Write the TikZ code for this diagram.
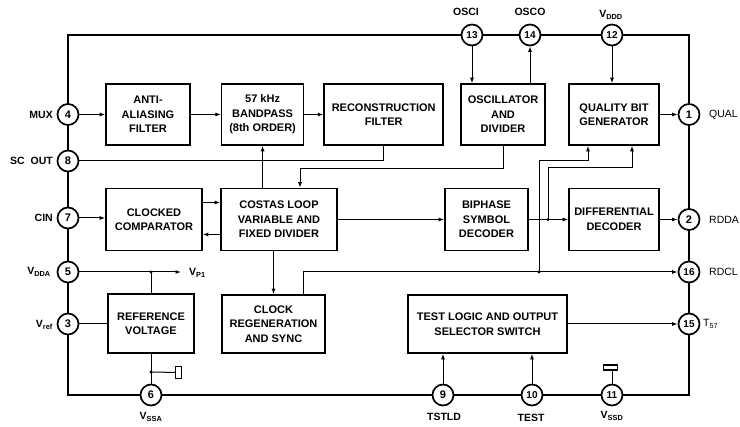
\documentclass[tikz,border=0pt]{standalone}
\usepackage{fontspec}
\setmainfont{Liberation Sans}
\usetikzlibrary{arrows.meta,positioning,calc}

\begin{document}
\begin{tikzpicture}[x=1pt, y=-1pt, node distance=30pt,
  every node/.style={font=\fontsize{11}{14.5}\selectfont\bfseries},
  blk/.style={draw, line width=1.6pt, align=center, minimum height=61pt, inner sep=2pt},
  pin/.style={draw, circle, fill=white, line width=1.7pt, minimum size=21pt, inner sep=0pt},
  twodig/.style={font=\fontsize{10}{10}\selectfont\bfseries},
  frame/.style={line width=2.4pt},
  sig/.style={line width=1pt},
  arr/.style={sig, -{Latex[length=5.5pt,width=4pt]}},
  lbl/.style={font=\fontsize{10.5}{11}\selectfont\bfseries, inner sep=1pt},
  lblr/.style={font=\fontsize{10.5}{11}\selectfont, inner sep=1pt, anchor=west},
  jdot/.style={circle, fill, inner sep=0pt, minimum size=3.4pt}]
\useasboundingbox (0,0) rectangle (740,427);

% outer frame
\coordinate (tl) at (68,35);
\coordinate (br) at (689,395);
\draw[frame] (tl) rectangle (br);

% blocks
\node[blk, minimum width=84pt] (anti) at (148,114.5) {ANTI-\\ALIASING\\FILTER};
\node[blk, minimum width=82pt, right=30pt of anti] (band) {57 kHz\\BANDPASS\\(8th ORDER)};
\node[blk, minimum width=119pt, right=19pt of band] (recon) {RECONSTRUCTION\\FILTER};
\node[blk, minimum width=84pt] (osc) at (503,114.5) {OSCILLATOR\\AND\\DIVIDER};
\node[blk, minimum width=90pt] (qbg) at (614,114.5) {QUALITY BIT\\GENERATOR};
\node[blk, minimum width=96pt, minimum height=62pt] (comp) at (154,219.5) {CLOCKED\\COMPARATOR};
\node[blk, minimum width=116pt, minimum height=62pt] (costas) at (279,219.5) {COSTAS LOOP\\VARIABLE AND\\FIXED DIVIDER};
\node[blk, minimum width=83pt, minimum height=62pt] (biph) at (486.5,219.5) {BIPHASE\\SYMBOL\\DECODER};
\node[blk, minimum width=90pt, minimum height=62pt] (diff) at (614,219.5) {DIFFERENTIAL\\DECODER};
\node[blk, minimum width=86pt, minimum height=59pt] (ref) at (151,323.5) {REFERENCE\\VOLTAGE};
\node[blk, minimum width=103pt, minimum height=58pt] (clk) at (273.5,324) {CLOCK\\REGENERATION\\AND SYNC};
\node[blk, minimum width=159pt, minimum height=58pt] (test) at (487.5,324) {TEST LOGIC AND OUTPUT\\SELECTOR SWITCH};

% pins
\node[pin] (p4) at (68,114.5) {4};
\node[pin] (p8) at (68,161) {8};
\node[pin] (p7) at (68,218) {7};
\node[pin] (p5) at (68,272) {5};
\node[pin] (p3) at (68,324) {3};
\node[pin] (p6) at (151,395) {6};
\node[pin] (p9) at (443,395) {9};
\node[pin, twodig] (p10) at (532,395) {10};
\node[pin, twodig] (p11) at (612,395) {11};
\node[pin, twodig] (p15) at (689,324) {15};
\node[pin, twodig] (p16) at (689,272) {16};
\node[pin] (p2) at (689,219.5) {2};
\node[pin] (p1) at (689,114.5) {1};
\node[pin, twodig] (p13) at (472,35) {13};
\node[pin, twodig] (p14) at (530,35) {14};
\node[pin, twodig] (p12) at (612,35) {12};

% pin labels
\node[lbl, anchor=east] at (54,114.5) {MUX};
\node[lbl, anchor=east] at (54,161) {SC\ \ OUT};
\node[lbl, anchor=east] at (54,218) {CIN};
\node[lbl, anchor=east] at (52,272) {V\textsubscript{DDA}};
\node[lbl, anchor=east] at (54,325) {V\textsubscript{ref}};
\node[lbl] at (466,12) {OSCI};
\node[lbl] at (530,12) {OSCO};
\node[lbl] at (611,15) {V\textsubscript{DDD}};
\node[lblr] at (708,114.5) {QUAL};
\node[lblr] at (708,219.5) {RDDA};
\node[lblr] at (708,272) {RDCL};
\node[lblr] at (702,324) {T\textsubscript{57}};
\node[lbl] at (151,417) {V\textsubscript{SSA}};
\node[lbl] at (444,417) {TSTLD};
\node[lbl] at (531,418) {TEST};
\node[lbl] at (612,416) {V\textsubscript{SSD}};

% signal paths
\draw[arr] (p4) -- (anti.west |- p4);
\draw[arr] (anti) -- (band);
\draw[arr] (band) -- (recon);
\draw[arr] (costas.north -| band.south) -- (band.south);
\draw[sig] (recon.south) |- (p8);
\draw[arr] (osc.south) -- ++(0,23) -| ([xshift=21pt]costas.north);
\draw[arr] (p13) -- (p13 |- osc.north);
\draw[arr] (osc.north -| p14) -- (p14);
\draw[arr] (p12) -- (p12 |- qbg.north);
\draw[arr] (qbg) -- (p1);
\draw[arr] (p7) -- (p7 -| comp.west);
\draw[arr] ([yshift=17pt]comp.east) -- ([yshift=17pt]costas.west);
\draw[arr] ([yshift=-15pt]costas.west) -- ([yshift=-15pt]comp.east);
\draw[arr] (costas) -- (biph);
\draw[arr] (biph) -- (diff);
\draw[arr] (diff) -- (p2);
\draw[arr] (costas.south -| clk.north) -- (clk.north);

% data taps to quality bit generator
\coordinate (j1) at (548,219.5);
\coordinate (j2) at (539,272);
\draw[arr] (j1) -- (548,168) -| ([xshift=18pt]qbg.south);
\draw[arr] ([xshift=29.5pt]clk.north) |- (p16);
\draw[arr] (j2) -- (539,161) -| ([xshift=-26pt]qbg.south);
\node[jdot] at (j1) {};
\node[jdot] at (j2) {};

% test logic
\draw[arr] (test) -- (p15);
\draw[arr] (p9) -- (p9 |- test.south);
\draw[arr] (p10) -- (p10 |- test.south);

% reference supply
\coordinate (vp1) at (181,272);
\coordinate (j3) at (ref.north |- p5);
\draw[arr] (p5) -- (vp1);
\node[lbl, anchor=west] at (188,273) {V\textsubscript{P1}};
\draw[sig] (j3) -- (ref.north);
\node[jdot] at (j3) {};
\draw[sig] (p3) -- (p3 -| ref.west);
\draw[sig] (ref.south) -- (p6);
\coordinate (j4) at (151,372);
\node[draw, line width=1.2pt, minimum width=6pt, minimum height=12pt, inner sep=0pt] (capa) at (178.5,372.5) {};
\draw[sig] (j4) -- (capa);
\node[jdot] at (j4) {};
\node[draw, line width=1.2pt, minimum width=14pt, minimum height=5pt, inner sep=0pt] (capd) at (610.5,367.5) {};
\draw[sig] (p11) -- (p11 |- capd.south);
\end{tikzpicture}
\end{document}
